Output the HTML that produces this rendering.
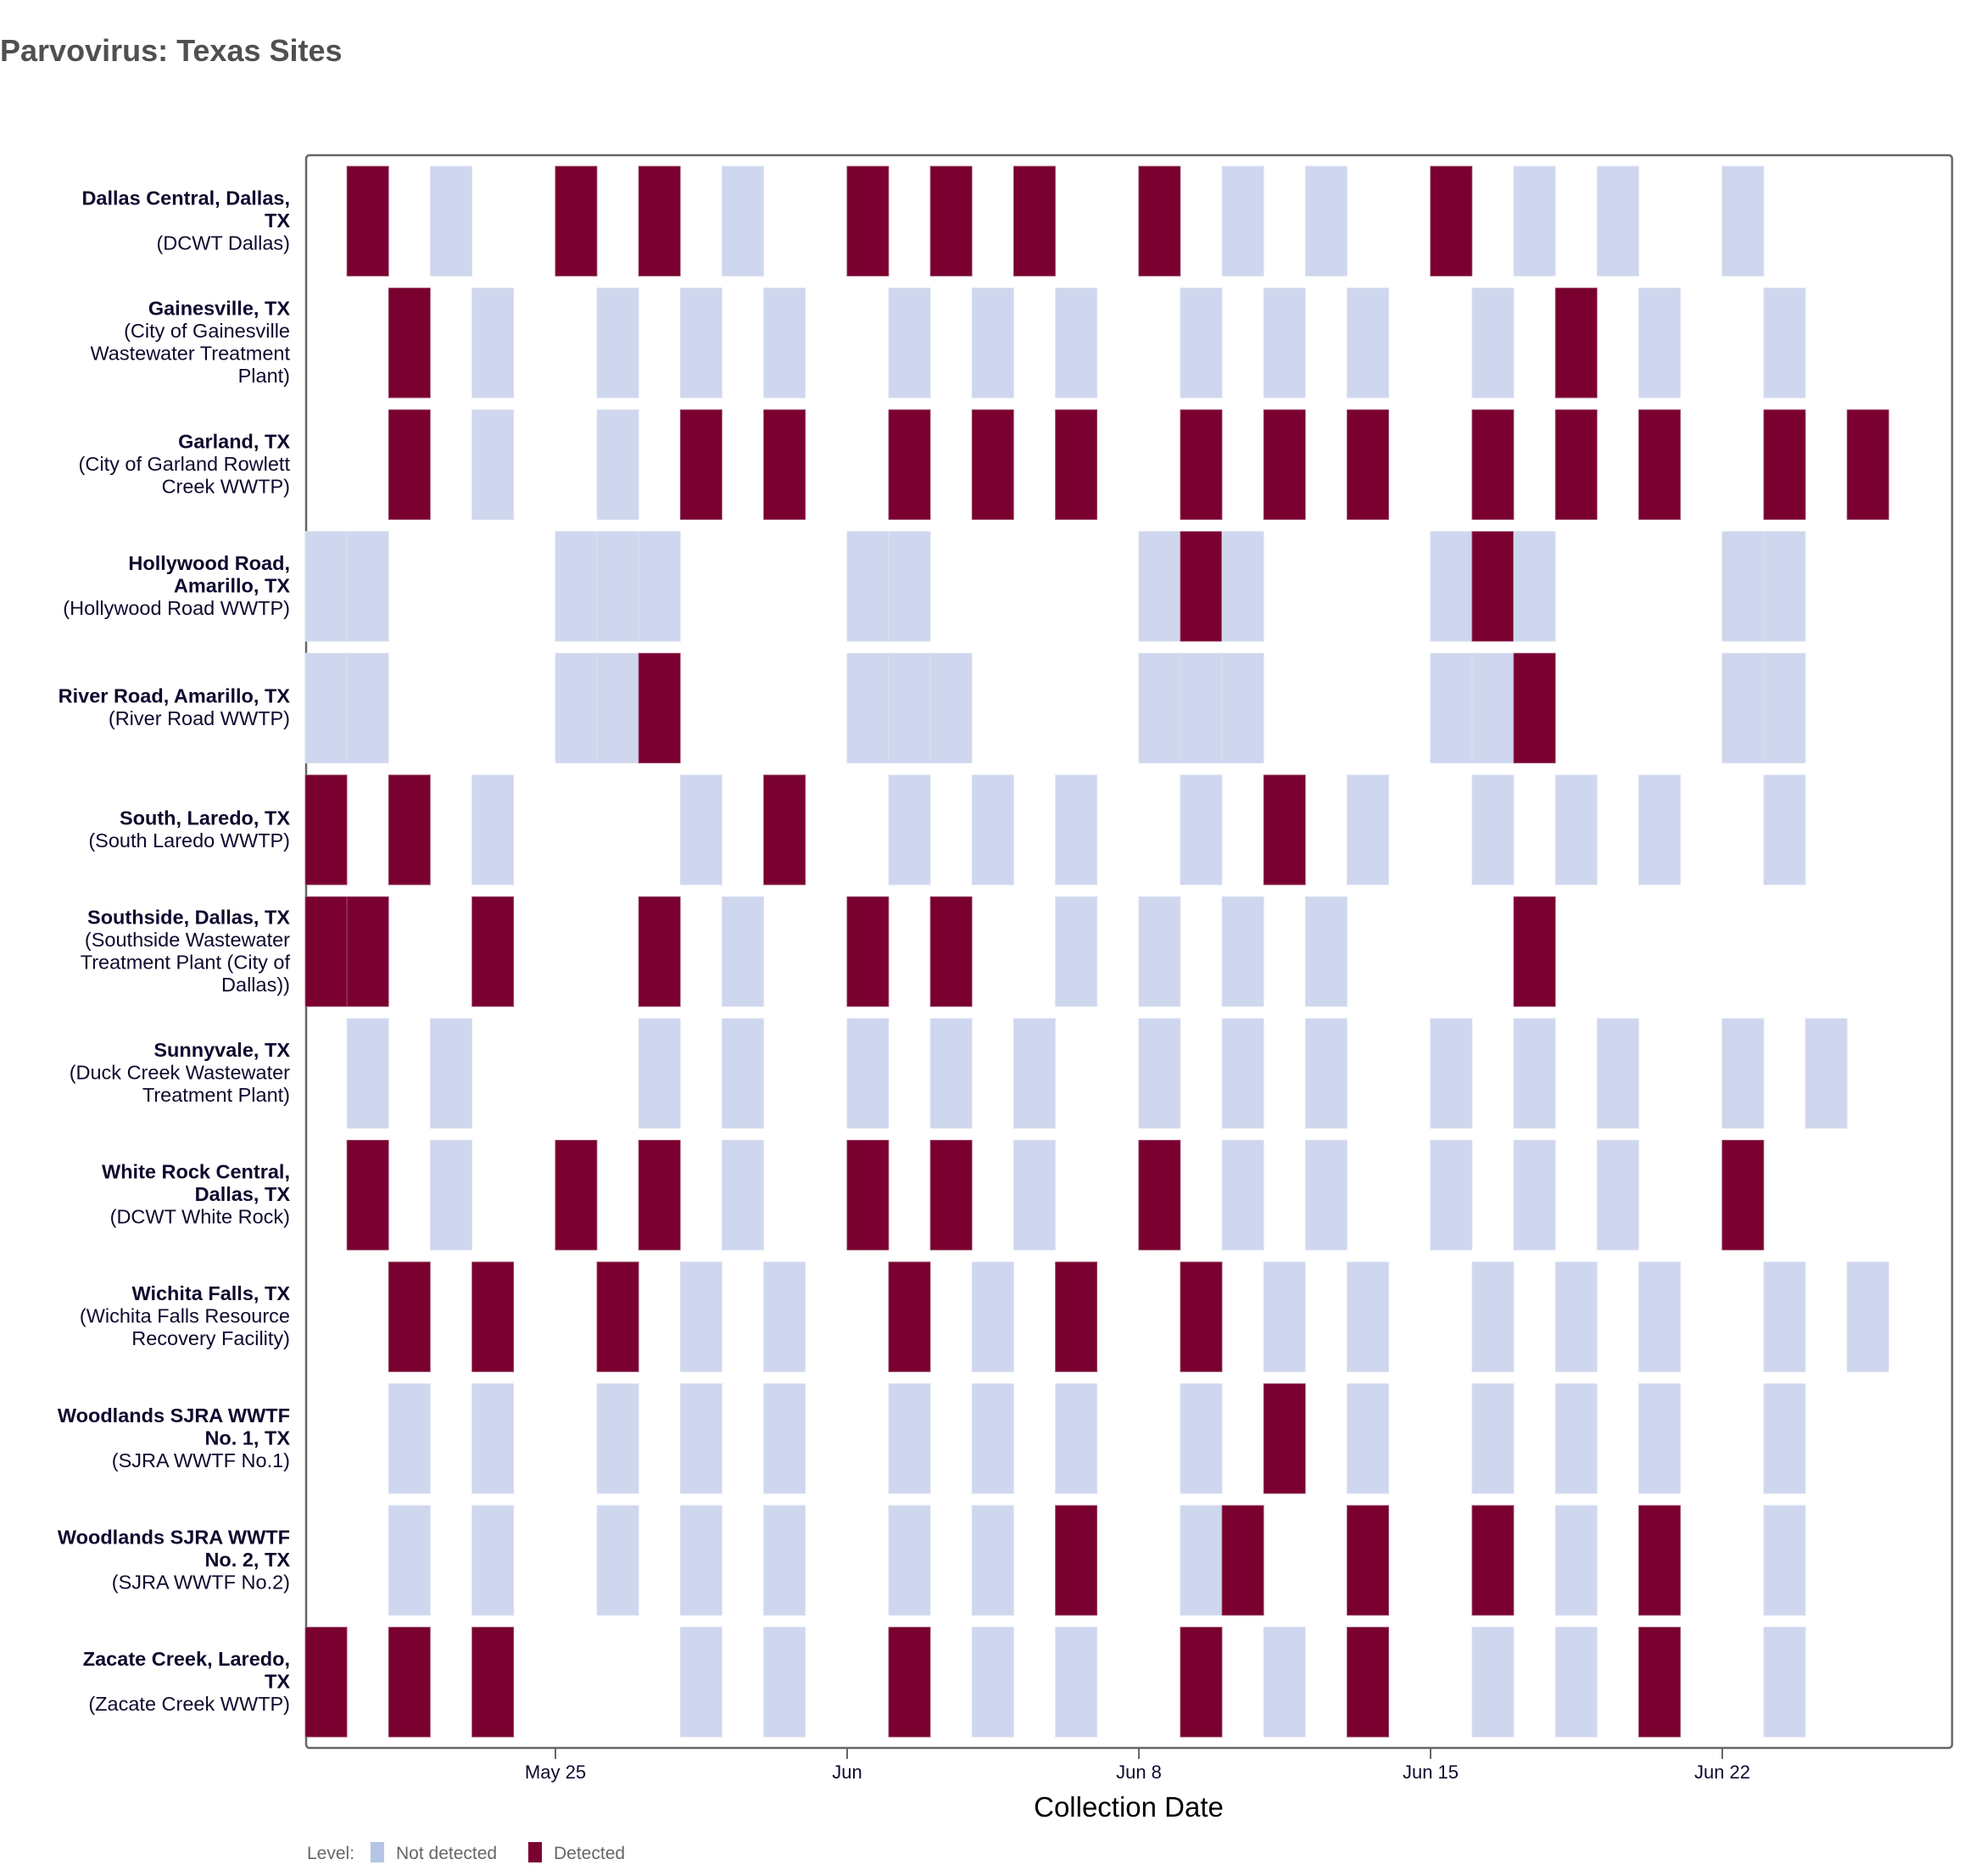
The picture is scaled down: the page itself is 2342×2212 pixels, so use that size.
<!DOCTYPE html>
<html><head><meta charset="utf-8"><style>
html,body{margin:0;padding:0;background:#fff;}
svg{display:block;font-family:"Liberation Sans",Arial,sans-serif;}
</style></head><body>
<svg id="s" width="2342" height="2212" viewBox="0 0 2342 2212" xmlns="http://www.w3.org/2000/svg">
<text x="0" y="72" font-size="36" font-weight="bold" fill="#505050">Parvovirus: Texas Sites</text>
<rect x="361" y="183" width="1941" height="1878" rx="4" fill="none" stroke="#666" stroke-width="2.5"/>
<g id="bars"></g>
<g id="labels" font-size="23.5" fill="#0d0a2e" text-anchor="end"></g>
<g stroke="#666" stroke-width="2">
<line x1="655" y1="2062" x2="655" y2="2074"/>
<line x1="999" y1="2062" x2="999" y2="2074"/>
<line x1="1343" y1="2062" x2="1343" y2="2074"/>
<line x1="1687" y1="2062" x2="1687" y2="2074"/>
<line x1="2031" y1="2062" x2="2031" y2="2074"/>
</g>
<g font-size="22" fill="#0d0a2e" text-anchor="middle">
<text x="655" y="2097">May 25</text>
<text x="999" y="2097">Jun</text>
<text x="1343" y="2097">Jun 8</text>
<text x="1687" y="2097">Jun 15</text>
<text x="2031" y="2097">Jun 22</text>
</g>
<text x="1331" y="2142" font-size="33" text-anchor="middle" fill="#000">Collection Date</text>
<g font-size="21" fill="#666">
<text x="362" y="2192">Level:</text>
<rect x="437" y="2172" width="16" height="24" fill="#b4c4e4"/>
<text x="467" y="2192">Not detected</text>
<rect x="623" y="2172" width="16" height="24" fill="#7a0030"/>
<text x="653" y="2192">Detected</text>
</g>
</svg>
<script>
var rows=[
"1D 3N 6D 8D 10N 13D 15D 17D 20D 22N 24N 27D 29N 31N 34N",
"2D 4N 7N 9N 11N 14N 16N 18N 21N 23N 25N 28N 30D 32N 35N",
"2D 4N 7N 9D 11D 14D 16D 18D 21D 23D 25D 28D 30D 32D 35D 37D",
"0N 1N 6N 7N 8N 13N 14N 20N 21D 22N 27N 28D 29N 34N 35N",
"0N 1N 6N 7N 8D 13N 14N 15N 20N 21N 22N 27N 28N 29D 34N 35N",
"0D 2D 4N 9N 11D 14N 16N 18N 21N 23D 25N 28N 30N 32N 35N",
"0D 1D 4D 8D 10N 13D 15D 18N 20N 22N 24N 29D",
"1N 3N 8N 10N 13N 15N 17N 20N 22N 24N 27N 29N 31N 34N 36N",
"1D 3N 6D 8D 10N 13D 15D 17N 20D 22N 24N 27N 29N 31N 34D",
"2D 4D 7D 9N 11N 14D 16N 18D 21D 23N 25N 28N 30N 32N 35N 37N",
"2N 4N 7N 9N 11N 14N 16N 18N 21N 23D 25N 28N 30N 32N 35N",
"2N 4N 7N 9N 11N 14N 16N 18D 21N 22D 25D 28D 30N 32D 35N",
"0D 2D 4D 9N 11N 14D 16N 18N 21D 23N 25D 28N 30N 32D 35N"];
var labels=[
[["Dallas Central, Dallas,",1],["TX",1],["(DCWT Dallas)",0]],
[["Gainesville, TX",1],["(City of Gainesville",0],["Wastewater Treatment",0],["Plant)",0]],
[["Garland, TX",1],["(City of Garland Rowlett",0],["Creek WWTP)",0]],
[["Hollywood Road,",1],["Amarillo, TX",1],["(Hollywood Road WWTP)",0]],
[["River Road, Amarillo, TX",1],["(River Road WWTP)",0]],
[["South, Laredo, TX",1],["(South Laredo WWTP)",0]],
[["Southside, Dallas, TX",1],["(Southside Wastewater",0],["Treatment Plant (City of",0],["Dallas))",0]],
[["Sunnyvale, TX",1],["(Duck Creek Wastewater",0],["Treatment Plant)",0]],
[["White Rock Central,",1],["Dallas, TX",1],["(DCWT White Rock)",0]],
[["Wichita Falls, TX",1],["(Wichita Falls Resource",0],["Recovery Facility)",0]],
[["Woodlands SJRA WWTF",1],["No. 1, TX",1],["(SJRA WWTF No.1)",0]],
[["Woodlands SJRA WWTF",1],["No. 2, TX",1],["(SJRA WWTF No.2)",0]],
[["Zacate Creek, Laredo,",1],["TX",1],["(Zacate Creek WWTP)",0]]];
var ns='http://www.w3.org/2000/svg',bars=document.getElementById('bars'),lab=document.getElementById('labels');
var cw=49.14,x0=360,y0=196,pitch=143.55,h=129.5;
rows.forEach(function(r,i){
  r.split(' ').forEach(function(t){
    var c=parseInt(t),d=t.slice(-1)=='D';
    var e=document.createElementNS(ns,'rect');
    e.setAttribute('x',x0+c*cw);e.setAttribute('y',y0+i*pitch);
    e.setAttribute('width',cw);e.setAttribute('height',h);
    e.setAttribute('fill',d?'#7a0030':'#cfd7ee');
    e.setAttribute('stroke',d?'#a05a78':'#dde3f3');e.setAttribute('stroke-width','0.8');
    bars.appendChild(e);
  });
  var L=labels[i],n=L.length,cy=y0+i*pitch+h/2;
  L.forEach(function(l,j){
    var t=document.createElementNS(ns,'text');
    t.setAttribute('x',342);t.setAttribute('y',cy+7+(j-(n-1)/2)*26.5);
    if(l[1])t.setAttribute('font-weight','bold');
    t.textContent=l[0];lab.appendChild(t);
  });
});
</script>
</body></html>
